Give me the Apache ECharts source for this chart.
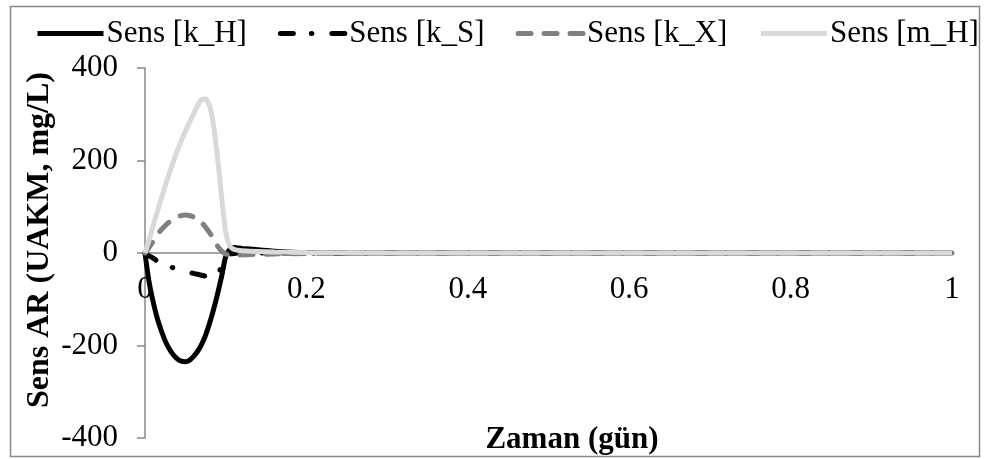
<!DOCTYPE html>
<html><head><meta charset="utf-8">
<script src="https://cdn.jsdelivr.net/npm/echarts@6/dist/echarts.min.js"></script>
<style>html,body{margin:0;padding:0;background:#fff}#c{width:985px;height:459px}</style>
</head><body><div id="c"></div>
<script>
const xValues = [0, 0.005, 0.01, 0.015, 0.02, 0.025, 0.03, 0.035, 0.04, 0.045, 0.05, 0.055, 0.06, 0.065, 0.07, 0.075, 0.08, 0.085, 0.09, 0.095, 0.1, 0.105, 0.11, 0.115, 0.12, 0.14, 0.16, 0.2, 0.3, 0.5, 0.7, 1.0];
const kH = [0, -62, -105, -140, -167, -190, -207, -220, -229, -234, -235, -232, -224, -213, -198, -178, -152, -122, -88, -50, -8, 8, 12, 11, 10, 7, 4, 1, 0, 0, 0, 0];
const kS = [0, -6, -11, -17, -22, -26, -29, -32, -35, -38, -40, -42, -44, -46, -48, -50, -51, -50, -44, -30, -10, -3, -1, 0, 0, 0, 0, 0, 0, 0, 0, 0];
const kX = [0, 12, 25, 38, 50, 59, 67, 73, 78, 81, 82, 81, 78, 73, 66, 56, 44, 30, 15, 4, -2, -4, -5, -5, -4, -3, -2, -1, 0, 0, 0, 0];
const mH = [0, 28, 58, 88, 117, 145, 172, 197, 221, 243, 263, 282, 300, 318, 332, 333, 318, 275, 205, 120, 45, 15, 8, 6, 5, 3, 2, 1, 0, 0, 0, 0];
const seriesNames = ['Sens [k_H]', 'Sens [k_S]', 'Sens [k_X]', 'Sens [m_H]'];
const yTicks = [-400, -200, 0, 200, 400];
const xTicks = [0, 0.2, 0.4, 0.6, 0.8, 1];

const font = 'Liberation Serif';
const pair = arr => xValues.map((x, i) => [x, arr[i]]);
const chart = echarts.init(document.getElementById('c'));
const common = {type: 'line', smooth: 0.3, symbol: 'none', showSymbol: false};
chart.setOption({
  animation: false,
  textStyle: {fontFamily: font},
  grid: {left: 145, right: 33, top: 68, bottom: 21},
  legend: {
    top: 13, left: 30, itemWidth: 66, itemHeight: 14, itemGap: 31,
    itemStyle: {opacity: 0},
    lineStyle: {width: 5},
    textStyle: {fontFamily: font, fontSize: 31, color: '#000', padding: [0, 0, 0, -2]},
    data: seriesNames
  },
  xAxis: {
    type: 'value', min: 0, max: 1, interval: 0.2, position: 'bottom', offset: -185,
    axisLine: {onZero: false, lineStyle: {color: '#888', width: 1.5}},
    axisTick: {show: false},
    splitLine: {show: false},
    axisLabel: {fontFamily: font, fontSize: 31, color: '#000', margin: 21,
      formatter: v => xTicks.includes(Math.round(v*10)/10) ? String(Math.round(v*10)/10) : ''}
  },
  yAxis: {
    type: 'value', min: -400, max: 400, interval: 200,
    axisLine: {show: true, lineStyle: {color: '#888', width: 1.5}},
    axisTick: {show: true, inside: false, length: 8, lineStyle: {color: '#888', width: 1.5}},
    splitLine: {show: false},
    axisLabel: {fontFamily: font, fontSize: 31, color: '#000', margin: 27,
      formatter: v => yTicks.includes(v) ? String(v) : ''}
  },
  graphic: [
    {type: 'rect', shape: {x: 10.5, y: 6.5, width: 969, height: 450}, style: {fill: 'none', stroke: '#888', lineWidth: 1.5}, silent: true, z: -1},
    {type: 'text', x: 572, y: 440, style: {text: 'Zaman (gün)', font: 'bold 31px "Liberation Serif"', fill: '#000', align: 'center', verticalAlign: 'middle'}},
    {type: 'text', x: 40, y: 240, rotation: Math.PI / 2, style: {text: 'Sens AR (UAKM, mg/L)', font: 'bold 32px "Liberation Serif"', fill: '#000', align: 'center', verticalAlign: 'middle'}}
  ],
  series: [
    Object.assign({name: seriesNames[0], data: pair(kH),
     lineStyle: {color: '#000', width: 5}, itemStyle: {color: '#000'}, z: 2}, common),
    Object.assign({name: seriesNames[1], data: pair(kS),
     lineStyle: {color: '#000', width: 5, type: [13, 18, 0.5, 20], cap: 'round'}, itemStyle: {color: '#000'}, z: 3}, common),
    Object.assign({name: seriesNames[2], data: pair(kX),
     lineStyle: {color: '#808080', width: 5, type: [13, 13], cap: 'round'}, itemStyle: {color: '#808080'}, z: 4}, common),
    Object.assign({name: seriesNames[3], data: pair(mH),
     lineStyle: {color: '#d9d9d9', width: 5}, itemStyle: {color: '#d9d9d9'}, z: 5}, common)
  ]
});
</script></body></html>
